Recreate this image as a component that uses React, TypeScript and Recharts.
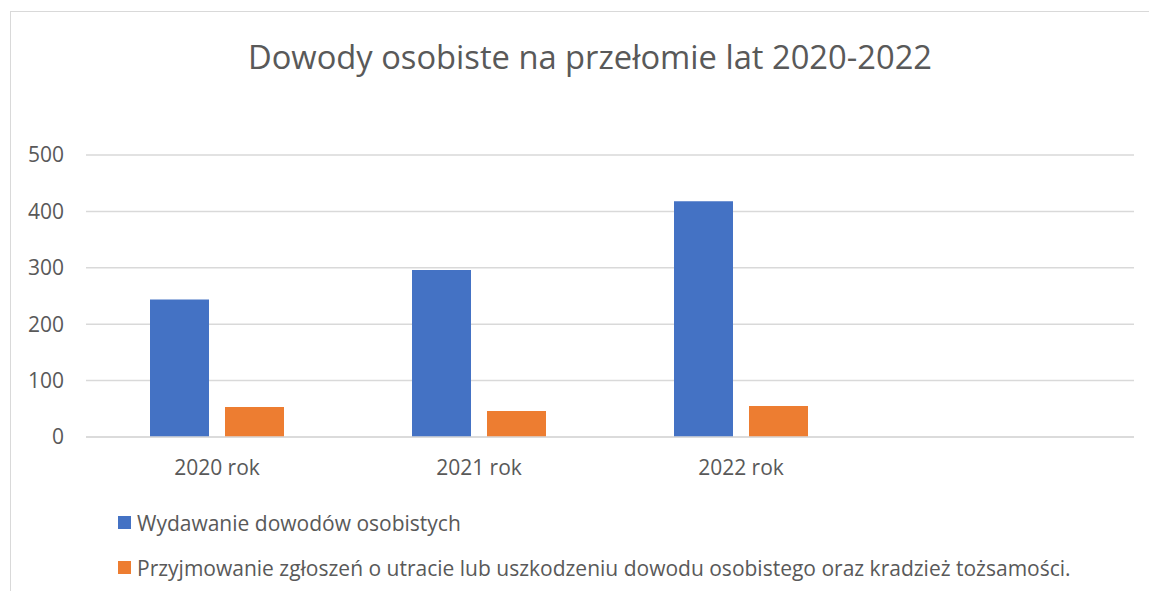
// @ts-nocheck
import { BarChart, Bar, XAxis, YAxis, CartesianGrid } from 'recharts';

const categories = ['2020 rok', '2021 rok', '2022 rok', ''];
const wydawanie = [244, 296, 418, null];
const zgloszenia = [53, 46, 55, null];
const yTicks = [0, 100, 200, 300, 400, 500];

const seriesNames = [
  'Wydawanie dowodów osobistych',
  'Przyjmowanie zgłoszeń o utracie lub uszkodzeniu dowodu osobistego oraz kradzież tożsamości.',
];
const colors = ['#4472C4', '#ED7D31'];

const data = categories.map((name, i) => ({
  name,
  wydawanie: wydawanie[i],
  zgloszenia: zgloszenia[i],
}));

const FONT = '"Open Sans", "Noto Sans", sans-serif';
const TEXT = '#595959';
const GRID = '#d9d9d9';

// legend sits under the plot, outside the chart's own layout
function ChartLegend() {
  return (
    <div style={{ position: 'absolute', left: 118, top: 500, fontFamily: FONT, fontSize: 21, color: TEXT }}>
      {seriesNames.map((n, i) => (
        <div key={n} style={{ display: 'flex', alignItems: 'center', height: 45, whiteSpace: 'nowrap' }}>
          <span style={{ width: 13, height: 13, background: colors[i], marginRight: 6, display: 'inline-block' }} />
          <span>{n}</span>
        </div>
      ))}
    </div>
  );
}

export default function App() {
  return (
    <div style={{ position: 'absolute', left: 0, top: 0, width: 1149, height: 591, background: '#fff', overflow: 'hidden' }}>
      <div style={{ position: 'absolute', left: 10, top: 11, width: 1200, height: 700, border: `1px solid ${GRID}` }} />
      <div
        style={{
          position: 'absolute',
          left: 0,
          width: 1180,
          top: 34,
          textAlign: 'center',
          fontFamily: FONT,
          fontSize: 32.7,
          fontWeight: 400,
          color: TEXT,
          whiteSpace: 'nowrap',
        }}
      >
        Dowody osobiste na przełomie lat 2020-2022
      </div>
      <BarChart
        width={1149}
        height={591}
        data={data}
        margin={{ top: 155, right: 15, bottom: 114, left: 0 }}
        barSize={59}
        barGap={16}
        style={{ position: 'absolute', left: 0, top: 0 }}
      >
        <CartesianGrid vertical={false} stroke={GRID} strokeWidth={1.5} />
        <XAxis
          dataKey="name"
          axisLine={{ stroke: GRID, strokeWidth: 1.5 }}
          tickLine={false}
          tickMargin={17}
          height={40}
          tick={{ fill: TEXT, fontSize: 21, fontFamily: FONT }}
        />
        <YAxis
          width={86}
          domain={[0, 500]}
          ticks={yTicks}
          axisLine={false}
          tickLine={false}
          tickMargin={16}
          tick={{ fill: TEXT, fontSize: 21, fontFamily: FONT }}
        />
        <Bar dataKey="wydawanie" name={seriesNames[0]} fill={colors[0]} isAnimationActive={false} />
        <Bar dataKey="zgloszenia" name={seriesNames[1]} fill={colors[1]} isAnimationActive={false} />
      </BarChart>
      <ChartLegend />
    </div>
  );
}
